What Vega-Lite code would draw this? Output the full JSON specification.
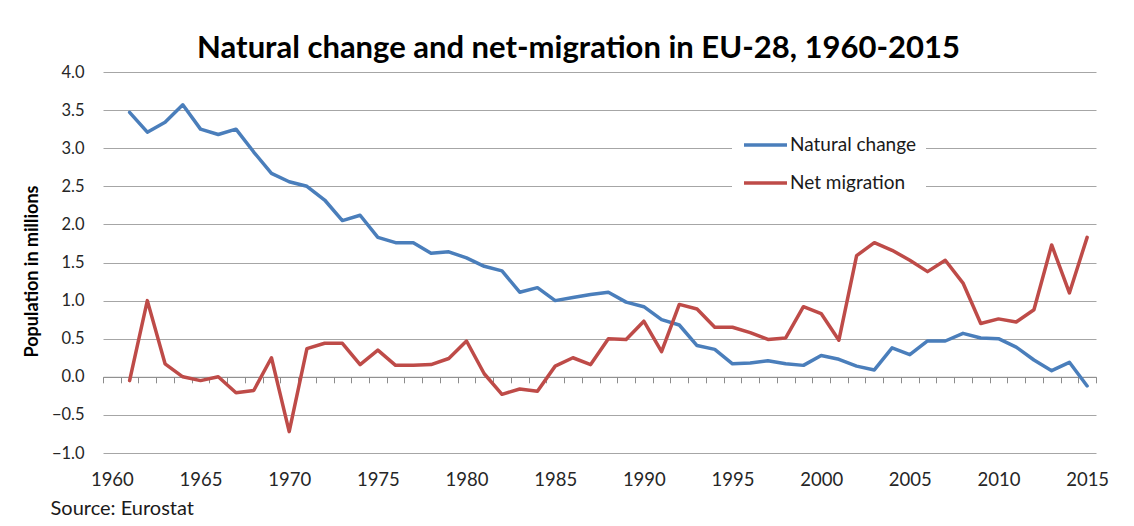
{
  "$schema": "https://vega.github.io/schema/vega-lite/v6.json",
  "width": 993,
  "height": 381,
  "autosize": {"type": "none"},
  "padding": {"left": 103, "top": 72, "right": 38, "bottom": 73},
  "background": "white",
  "title": {
    "text": "Natural change and net-migration in EU-28, 1960-2015",
    "font": "Lato",
    "fontSize": 31,
    "fontWeight": "bold",
    "color": "#000000",
    "anchor": "middle",
    "frame": "group",
    "baseline": "alphabetic",
    "offset": 13,
    "dx": -21,
    "dy": 38
  },
  "config": {
    "view": {"stroke": null},
    "font": "Lato",
    "axis": {"labelColor": "#262626", "labelFont": "Lato"},
    "legend": {"labelFont": "Lato"}
  },
  "data": {
    "values": [
      {"year": 1961, "Natural change": 3.47, "Net migration": -0.05},
      {"year": 1962, "Natural change": 3.21, "Net migration": 1.00},
      {"year": 1963, "Natural change": 3.34, "Net migration": 0.17},
      {"year": 1964, "Natural change": 3.57, "Net migration": 0.00},
      {"year": 1965, "Natural change": 3.25, "Net migration": -0.05},
      {"year": 1966, "Natural change": 3.18, "Net migration": 0.00},
      {"year": 1967, "Natural change": 3.25, "Net migration": -0.21},
      {"year": 1968, "Natural change": 2.95, "Net migration": -0.18},
      {"year": 1969, "Natural change": 2.67, "Net migration": 0.25},
      {"year": 1970, "Natural change": 2.56, "Net migration": -0.72},
      {"year": 1971, "Natural change": 2.50, "Net migration": 0.37},
      {"year": 1972, "Natural change": 2.32, "Net migration": 0.44},
      {"year": 1973, "Natural change": 2.05, "Net migration": 0.44},
      {"year": 1974, "Natural change": 2.12, "Net migration": 0.16},
      {"year": 1975, "Natural change": 1.83, "Net migration": 0.35},
      {"year": 1976, "Natural change": 1.76, "Net migration": 0.15},
      {"year": 1977, "Natural change": 1.76, "Net migration": 0.15},
      {"year": 1978, "Natural change": 1.62, "Net migration": 0.16},
      {"year": 1979, "Natural change": 1.64, "Net migration": 0.24},
      {"year": 1980, "Natural change": 1.56, "Net migration": 0.47},
      {"year": 1981, "Natural change": 1.45, "Net migration": 0.04},
      {"year": 1982, "Natural change": 1.39, "Net migration": -0.23},
      {"year": 1983, "Natural change": 1.11, "Net migration": -0.16},
      {"year": 1984, "Natural change": 1.17, "Net migration": -0.19},
      {"year": 1985, "Natural change": 1.00, "Net migration": 0.14},
      {"year": 1986, "Natural change": 1.04, "Net migration": 0.25},
      {"year": 1987, "Natural change": 1.08, "Net migration": 0.16},
      {"year": 1988, "Natural change": 1.11, "Net migration": 0.50},
      {"year": 1989, "Natural change": 0.98, "Net migration": 0.49},
      {"year": 1990, "Natural change": 0.92, "Net migration": 0.73},
      {"year": 1991, "Natural change": 0.75, "Net migration": 0.33},
      {"year": 1992, "Natural change": 0.68, "Net migration": 0.95},
      {"year": 1993, "Natural change": 0.41, "Net migration": 0.89},
      {"year": 1994, "Natural change": 0.36, "Net migration": 0.65},
      {"year": 1995, "Natural change": 0.17, "Net migration": 0.65},
      {"year": 1996, "Natural change": 0.18, "Net migration": 0.58},
      {"year": 1997, "Natural change": 0.21, "Net migration": 0.49},
      {"year": 1998, "Natural change": 0.17, "Net migration": 0.51},
      {"year": 1999, "Natural change": 0.15, "Net migration": 0.92},
      {"year": 2000, "Natural change": 0.28, "Net migration": 0.83},
      {"year": 2001, "Natural change": 0.23, "Net migration": 0.48},
      {"year": 2002, "Natural change": 0.14, "Net migration": 1.59},
      {"year": 2003, "Natural change": 0.09, "Net migration": 1.76},
      {"year": 2004, "Natural change": 0.38, "Net migration": 1.66},
      {"year": 2005, "Natural change": 0.29, "Net migration": 1.53},
      {"year": 2006, "Natural change": 0.47, "Net migration": 1.38},
      {"year": 2007, "Natural change": 0.47, "Net migration": 1.53},
      {"year": 2008, "Natural change": 0.57, "Net migration": 1.23},
      {"year": 2009, "Natural change": 0.51, "Net migration": 0.70},
      {"year": 2010, "Natural change": 0.50, "Net migration": 0.76},
      {"year": 2011, "Natural change": 0.39, "Net migration": 0.72},
      {"year": 2012, "Natural change": 0.22, "Net migration": 0.88},
      {"year": 2013, "Natural change": 0.08, "Net migration": 1.73},
      {"year": 2014, "Natural change": 0.19, "Net migration": 1.10},
      {"year": 2015, "Natural change": -0.12, "Net migration": 1.83}
    ]
  },
  "transform": [
    {"fold": ["Natural change", "Net migration"], "as": ["series", "value"]}
  ],
  "layer": [
    {
      "mark": {"type": "line", "strokeWidth": 3.5, "strokeJoin": "round", "strokeCap": "round"},
      "encoding": {
        "x": {
          "field": "year",
          "type": "quantitative",
          "scale": {"domain": [1959.5, 2015.5], "nice": false, "zero": false},
          "axis": {
            "orient": "bottom",
            "values": [1960, 1965, 1970, 1975, 1980, 1985, 1990, 1995, 2000, 2005, 2010, 2015],
            "format": "d",
            "labelFontSize": 18.5,
            "labelPadding": 17,
            "labelBaseline": "top",
            "domain": false,
            "ticks": false,
            "grid": false,
            "title": "Source: Eurostat",
            "titleFont": "Lato",
            "titleFontSize": 20,
            "titleFontWeight": "normal",
            "titleColor": "#1a1a1a",
            "titleAlign": "left",
            "titleAnchor": "start",
            "titleBaseline": "middle",
            "titleX": -53,
            "titleY": 55
          }
        },
        "y": {
          "field": "value",
          "type": "quantitative",
          "scale": {"domain": [-1, 4], "nice": false, "zero": false},
          "axis": {
            "values": [-1, -0.5, 0, 0.5, 1, 1.5, 2, 2.5, 3, 3.5, 4],
            "format": ".1f",
            "labelFontSize": 16.5,
            "labelPadding": 19,
            "labelOverlap": false,
            "domain": false,
            "ticks": false,
            "grid": true,
            "gridColor": "#a6a6a6",
            "gridWidth": 1,
            "title": "Population in millions",
            "titleFont": "Lato",
            "titleFontSize": 18,
            "titleFontWeight": "bold",
            "titleColor": "#000000",
            "titleAngle": 270,
            "titleAlign": "center",
            "titleBaseline": "middle",
            "titleX": -71,
            "titleY": 199
          }
        },
        "color": {
          "field": "series",
          "type": "nominal",
          "scale": {"domain": ["Natural change", "Net migration"], "range": ["#4a7ebb", "#be4b48"]},
          "legend": {
            "title": null,
            "orient": "none",
            "legendX": 629,
            "legendY": 53,
            "direction": "vertical",
            "fillColor": "white",
            "padding": 10,
            "symbolType": "stroke",
            "symbolSize": 1849,
            "symbolStrokeWidth": 3.5,
            "clipHeight": 20,
            "rowPadding": 18,
            "labelOffset": 1,
            "labelFontSize": 19,
            "labelColor": "#1a1a1a",
            "labelLimit": 300
          }
        }
      }
    },
    {
      "mark": {"type": "line", "opacity": 0},
      "encoding": {
        "x": {
          "field": "year",
          "type": "quantitative",
          "axis": {
            "orient": "bottom",
            "offset": -76.2,
            "values": [1959.5, 1960.5, 1961.5, 1962.5, 1963.5, 1964.5, 1965.5, 1966.5, 1967.5, 1968.5, 1969.5, 1970.5, 1971.5, 1972.5, 1973.5, 1974.5, 1975.5, 1976.5, 1977.5, 1978.5, 1979.5, 1980.5, 1981.5, 1982.5, 1983.5, 1984.5, 1985.5, 1986.5, 1987.5, 1988.5, 1989.5, 1990.5, 1991.5, 1992.5, 1993.5, 1994.5, 1995.5, 1996.5, 1997.5, 1998.5, 1999.5, 2000.5, 2001.5, 2002.5, 2003.5, 2004.5, 2005.5, 2006.5, 2007.5, 2008.5, 2009.5, 2010.5, 2011.5, 2012.5, 2013.5, 2014.5, 2015.5],
            "labels": false,
            "domain": true,
            "domainColor": "#8c8c8c",
            "domainWidth": 1,
            "ticks": true,
            "tickColor": "#8c8c8c",
            "tickSize": 6,
            "tickWidth": 1,
            "grid": false,
            "title": null
          }
        },
        "y": {"field": "value", "type": "quantitative", "axis": null}
      }
    }
  ],
  "resolve": {"axis": {"x": "independent", "y": "independent"}}
}
